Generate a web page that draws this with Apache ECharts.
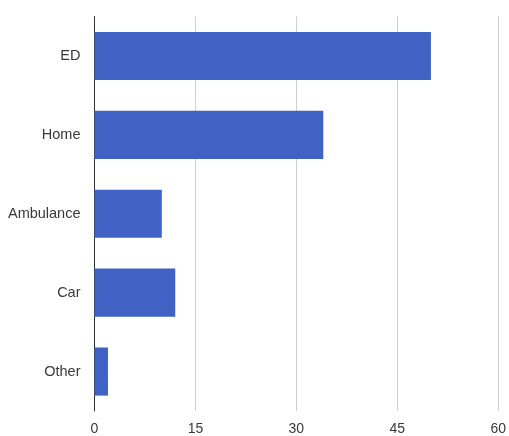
<!DOCTYPE html>
<html>
<head>
<meta charset="utf-8">
<script src="https://cdn.jsdelivr.net/npm/echarts@6/dist/echarts.min.js"></script>
<style>
  html, body { margin: 0; padding: 0; background: #fff; }
  #chart { width: 509px; height: 436px; }
</style>
</head>
<body>
<div id="chart"></div>
<script>
// Arrival sources, listed top to bottom
const categories = ['ED', 'Home', 'Ambulance', 'Car', 'Other'];
const counts = [50, 34, 10, 12, 2];
const xTicks = [0, 15, 30, 45, 60];

const chart = echarts.init(document.getElementById('chart'), null, { renderer: 'canvas' });

chart.setOption({
  animation: false,
  backgroundColor: '#ffffff',
  grid: { left: 94.5, right: 9, top: 16.5, bottom: 25, containLabel: false },
  xAxis: {
    type: 'value',
    min: xTicks[0],
    max: xTicks[xTicks.length - 1],
    interval: xTicks[1] - xTicks[0],
    axisLine: { show: false },
    axisTick: { show: false },
    splitLine: { show: true, lineStyle: { color: '#d0d0d0', width: 1 } },
    axisLabel: {
      color: '#3a3a3a',
      fontFamily: 'Liberation Sans, Arial, sans-serif',
      fontSize: 14,
      margin: 11
    }
  },
  yAxis: {
    type: 'category',
    inverse: true,
    data: categories,
    axisLine: { show: true, lineStyle: { color: '#333', width: 1 } },
    axisTick: { show: false },
    splitLine: { show: false },
    axisLabel: {
      color: '#3a3a3a',
      fontFamily: 'Liberation Sans, Arial, sans-serif',
      fontSize: 14.5,
      margin: 14
    }
  },
  series: [{
    type: 'bar',
    data: counts,
    barCategoryGap: '39%',
    itemStyle: { color: '#4062c4' }
  }]
});
</script>
</body>
</html>
